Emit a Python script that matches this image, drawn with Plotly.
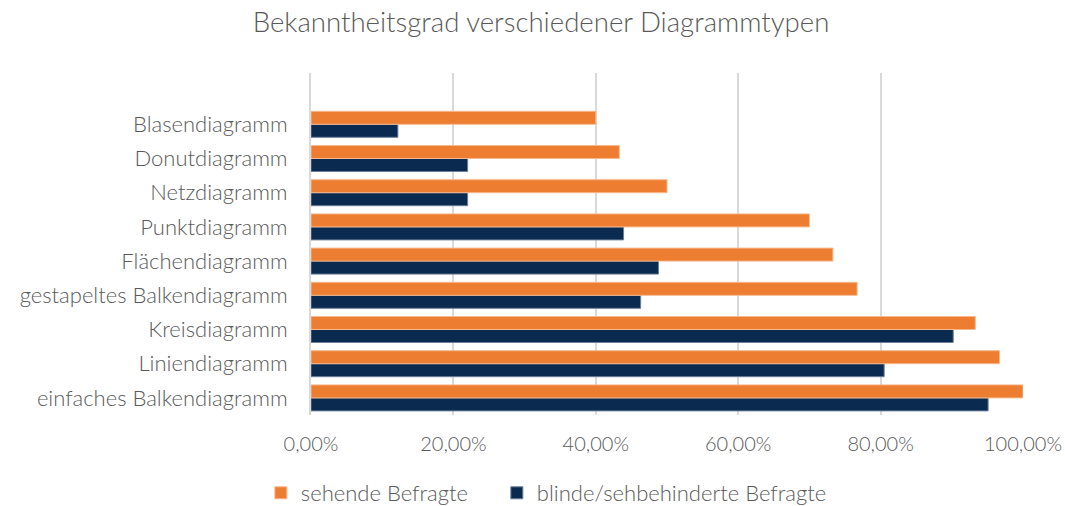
import plotly.graph_objects as go

categories = ["einfaches Balkendiagramm", "Liniendiagramm", "Kreisdiagramm",
              "gestapeltes Balkendiagramm", "Flächendiagramm", "Punktdiagramm",
              "Netzdiagramm", "Donutdiagramm", "Blasendiagramm"]
sehende = [1.000, 0.967, 0.933, 0.767, 0.733, 0.700, 0.500, 0.433, 0.400]
blinde = [0.951, 0.805, 0.902, 0.463, 0.488, 0.439, 0.220, 0.220, 0.122]
x_ticks = [0, 0.2, 0.4, 0.6, 0.8, 1.0]

FONT = "Lato"
GREY = "#595959"

fig = go.Figure()
fig.add_trace(go.Bar(
    y=categories, x=blinde, orientation="h", name="blinde/sehbehinderte Befragte",
    marker=dict(color="#0B2A50", line=dict(color="#6B7F99", width=1)),
    legendrank=2,
))
fig.add_trace(go.Bar(
    y=categories, x=sehende, orientation="h", name="sehende Befragte" + "\u00a0" * 4,
    marker=dict(color="#ED7D31", line=dict(color="#F6B88E", width=1)),
    legendrank=1,
))

fig.update_layout(
    width=1065, height=506,
    margin=dict(l=311, r=42, t=73, b=91, autoexpand=False),
    paper_bgcolor="white", plot_bgcolor="white",
    barmode="group", bargap=0.24, bargroupgap=0,
    separators=",.",
    font=dict(family=FONT, color=GREY, size=19),
    title=dict(text="Bekanntheitsgrad verschiedener Diagrammtypen",
               font=dict(family=FONT, size=27.6, color=GREY, weight=300),
               x=0.508, xref="container", xanchor="center",
               y=1 - 22 / 506, yref="container", yanchor="middle"),
    legend=dict(orientation="h", xref="container", yref="container",
                x=0.513, xanchor="center", y=1 - 493 / 506, yanchor="middle",
                font=dict(family=FONT, size=22, color=GREY, weight=300),
                itemwidth=30, tracegroupgap=0),
    xaxis=dict(range=[0, 1], tickvals=x_ticks, tickformat=".2%",
               showgrid=True, gridcolor="#D9D9D9", gridwidth=2,
               zeroline=False, showline=False, ticks="", automargin=False,
               ticklabelstandoff=15,
               tickfont=dict(family=FONT, size=20, color=GREY, weight=300)),
    yaxis=dict(type="category", categoryorder="array", categoryarray=categories,
               range=[-0.5, 9.5], showgrid=False, zeroline=False, automargin=False,
               showline=True, linecolor="#D9D9D9", linewidth=2, ticks="",
               ticklabelstandoff=17,
               tickfont=dict(family=FONT, size=22, color=GREY, weight=300)),
)

fig.write_html("out.html", config={"displayModeBar": False})
with open("out.html", encoding="utf-8") as f:
    html = f.read()
html = html.replace("<body>", '<body style="margin:0;padding:0;overflow:hidden">', 1)
with open("out.html", "w", encoding="utf-8") as f:
    f.write(html)
